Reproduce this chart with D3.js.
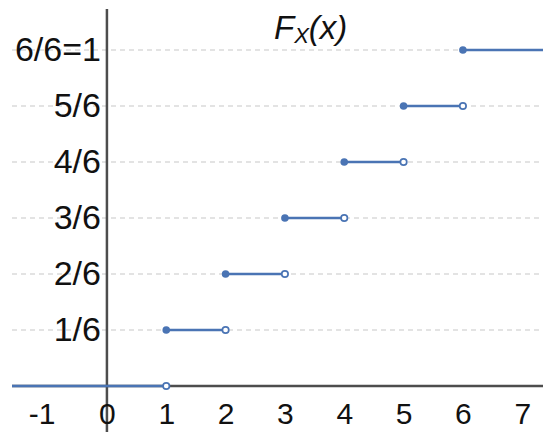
<!DOCTYPE html>
<html>
<head>
<meta charset="utf-8">
<script src="https://cdn.jsdelivr.net/npm/d3@7"></script>
<style>
  html, body { margin: 0; padding: 0; background: #fff; }
  svg { display: block; }
  text { font-family: "Liberation Sans", Arial, sans-serif; }
</style>
</head>
<body>
<svg id="chart" width="543" height="432"></svg>
<script>
// Step CDF of a fair six-sided die: F_X(x) = k/6 on [k, k+1)
const jumpPoints = [1, 2, 3, 4, 5, 6];
const cdfLevels = [1/6, 2/6, 3/6, 4/6, 5/6, 1];
const xTicks = [-1, 0, 1, 2, 3, 4, 5, 6, 7];
const yTicks = [1/6, 2/6, 3/6, 4/6, 5/6, 1];
const yTickLabels = ["1/6", "2/6", "3/6", "4/6", "5/6", "6/6=1"];

const W = 543, H = 432;
const blue = "#4a74b4";
const axisColor = "#4d4d4d";

const svg = d3.select("#chart");

const x = d3.scaleLinear().domain([-1.6, 7.35]).range([12, 543]);
const y = d3.scaleLinear().domain([0, 1]).range([386, 50]);

// dashed gridlines
svg.append("g").selectAll("line").data(yTicks).join("line")
  .attr("x1", 12).attr("x2", W)
  .attr("y1", d => y(d)).attr("y2", d => y(d))
  .attr("stroke", "#c8c8c8").attr("stroke-width", 1.2)
  .attr("stroke-dasharray", "5,4");

// axes lines
svg.append("line")
  .attr("x1", 12).attr("x2", W).attr("y1", y(0)).attr("y2", y(0))
  .attr("stroke", axisColor).attr("stroke-width", 2.5);
svg.append("line")
  .attr("x1", x(0)).attr("x2", x(0)).attr("y1", 9).attr("y2", H)
  .attr("stroke", axisColor).attr("stroke-width", 2.5);

// x tick labels (plain hyphen for negatives)
const xAxis = svg.append("g")
  .attr("transform", `translate(0,${y(0)})`)
  .call(d3.axisBottom(x).tickValues(xTicks).tickSize(0).tickPadding(17)
    .tickFormat(d => String(d)));
xAxis.select(".domain").remove();
xAxis.selectAll("text")
  .attr("font-size", 30).attr("fill", "#111")
  .attr("font-family", "Liberation Sans, Arial, sans-serif")
  .attr("dx", d => d < 0 ? -6 : 0);

// y tick labels
const yAxis = svg.append("g")
  .attr("transform", `translate(${x(0)},0)`)
  .call(d3.axisLeft(y).tickValues(yTicks).tickSize(0).tickPadding(6)
    .tickFormat((d, i) => yTickLabels[i]));
yAxis.select(".domain").remove();
yAxis.selectAll("text")
  .attr("font-size", 34).attr("fill", "#111")
  .attr("font-family", "Liberation Sans, Arial, sans-serif");

// step segments
const steps = jumpPoints.map((k, i) => ({
  x0: k,
  x1: i < jumpPoints.length - 1 ? jumpPoints[i + 1] : x.domain()[1],
  level: cdfLevels[i],
  closedRight: i === jumpPoints.length - 1
}));
const g = svg.append("g");

// level 0 up to the first jump
g.append("line")
  .attr("x1", x(x.domain()[0])).attr("x2", x(jumpPoints[0]))
  .attr("y1", y(0)).attr("y2", y(0))
  .attr("stroke", blue).attr("stroke-width", 2.5);

g.selectAll("line.step").data(steps).join("line").attr("class", "step")
  .attr("x1", d => x(d.x0)).attr("x2", d => x(d.x1))
  .attr("y1", d => y(d.level)).attr("y2", d => y(d.level))
  .attr("stroke", blue).attr("stroke-width", 2.5);

// open circles at the right end of each step (value not attained)
const openPts = [{ x: jumpPoints[0], level: 0 }]
  .concat(steps.filter(d => !d.closedRight).map(d => ({ x: d.x1, level: d.level })));
g.selectAll("circle.open").data(openPts).join("circle").attr("class", "open")
  .attr("cx", d => x(d.x)).attr("cy", d => y(d.level)).attr("r", 3.2)
  .attr("fill", "#fff").attr("stroke", blue).attr("stroke-width", 1.7);

// filled circles at each jump
g.selectAll("circle.closed").data(steps).join("circle").attr("class", "closed")
  .attr("cx", d => x(d.x0)).attr("cy", d => y(d.level)).attr("r", 3.8)
  .attr("fill", blue);

// title F_X(x)
const title = svg.append("text")
  .attr("x", 274).attr("y", 39)
  .attr("font-size", 33).attr("font-style", "italic").attr("fill", "#111");
title.append("tspan").text("F");
title.append("tspan").attr("font-size", 22).attr("dy", 4).text("X");
title.append("tspan").attr("dy", -4).text("(x)");
</script>
</body>
</html>
